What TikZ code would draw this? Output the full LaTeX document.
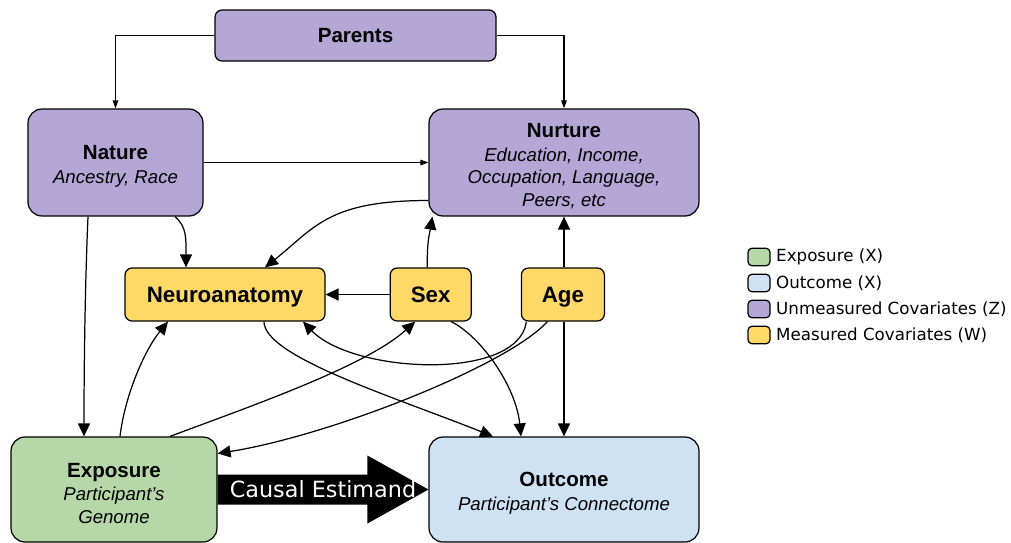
\documentclass[tikz,border=0pt]{standalone}
\usepackage{fontspec}
\setmainfont{Liberation Sans}
\newfontfamily\dejavu{DejaVu Sans}
\usetikzlibrary{positioning,arrows.meta,calc}

\definecolor{unmeas}{HTML}{B4A7D6}
\definecolor{meas}{HTML}{FFD966}
\definecolor{expos}{HTML}{B6D7A8}
\definecolor{outco}{HTML}{CFE2F3}

\newcommand{\boxtitle}[1]{{\fontsize{11.7}{14}\selectfont\bfseries\upshape\rule{0pt}{12.4pt}#1}\\[0.3pt]}
\newcommand{\covtitle}[1]{{\fontsize{12.7}{15}\selectfont\bfseries\upshape #1}}

\begin{document}
\begin{tikzpicture}[
    x=0.02cm, y=-0.02cm, line width=0.7pt,
    >={Triangle[length=2.6mm,width=2.4mm]},
    thinarr/.style={-{Triangle[length=1.6mm,width=1.1mm]}},
    var/.style={draw, align=center, inner sep=1pt, font=\fontsize{10.6}{13}\selectfont\itshape},
    big/.style={var, rounded corners=2.8mm},
    cov/.style={var, fill=meas, rounded corners=1.4mm, minimum height=10.6mm, text height=9.1pt, text depth=0pt},
    key/.style={draw, rounded corners=0.8mm, minimum width=4.4mm, minimum height=3.5mm, inner sep=0pt},
    legtext/.style={inner sep=0pt, font=\dejavu\fontsize{9.5}{11}\selectfont},
    estim/.style={text=white, font=\dejavu\fontsize{12.7}{15}\selectfont},
  ]
  \useasboundingbox (0,0) rectangle (1011,542);

  % --- Unmeasured covariates ---
  \node[var, fill=unmeas, rounded corners=1.4mm, minimum width=5.62cm, minimum height=1.02cm,
    text height=8.4pt, text depth=0pt] (par) at (355.5,35.5) {\textbf{\upshape\fontsize{11.7}{14}\selectfont Parents}};
  \node[big, fill=unmeas, minimum width=3.5cm, minimum height=2.14cm] (nat) at (115.5,162.5) {\boxtitle{Nature}Ancestry, Race};
  \node[big, fill=unmeas, minimum width=5.4cm, minimum height=2.14cm] (nur) at (564,162.5) {\boxtitle{Nurture}Education, Income,\\Occupation, Language,\\Peers, etc};
  % --- Measured covariates ---
  \node[cov, minimum width=4cm] (neu) at (225,294.5) {\covtitle{Neuroanatomy}};
  \node[cov, minimum width=1.62cm, right=1.28cm of neu] (sex) {\covtitle{Sex}};
  \node[cov, minimum width=1.66cm, right=0.98cm of sex] (age) {\covtitle{Age}};
  % --- Exposure / outcome ---
  \node[big, fill=expos, minimum width=4.12cm, minimum height=2.1cm] (expo) at (114,489.5) {\boxtitle{Exposure}Participant’s\\Genome};
  \node[big, fill=outco, minimum width=5.4cm, minimum height=2.1cm] (outc) at (564,489.5) {\boxtitle{Outcome}Participant’s Connectome};

  % Parents, Nature
  \draw[thinarr] (par.west) -| (nat.north);
  \draw[thinarr] (par.east) -| (nur.north);
  \draw[thinarr] (nat.east) -- (nur.west);
  \draw[->] ($(nat.south)+(-27.5,0)$) .. controls +(-3,70) and +(0,-70) .. ($(expo.north)+(-30,0)$);
  \draw[->] ($(nat.south)+(59.5,0)$) .. controls +(12,10) and +(0,-28) .. ($(neu.north)+(-39,0)$);
  % Nurture
  \draw[->] ($(nur.west)+(0,38)$) .. controls +(-100,0) and +(50,-40) .. ($(neu.north)+(40,0)$);
  % Sex
  \draw[->] ($(sex.north)+(-3.5,0)$) .. controls +(0,-28) and +(-3,18) .. ($(nur.south west)+(4,0)$);
  \draw[->] (sex.west) -- (neu.east);
  \draw[->] ($(sex.south)+(20.5,0)$) .. controls +(30,15) and +(-5,-50) .. ($(outc.north)+(-43,0)$);
  % Age
  \draw[->] (nur.south |- age.north) -- (nur.south);
  \draw[->] (outc.north |- age.south) -- (outc.north);
  \draw[->] ($(age.south)+(-36.5,0)$) .. controls +(-8,60) and +(50,52) .. ($(neu.south)+(78,0)$);
  \draw[->] ($(age.south)+(-15.5,0)$) .. controls +(-40,44) and +(113,-18) .. ($(expo.east)+(0,-36)$);
  % Neuroanatomy, Exposure
  \draw[->] ($(neu.south)+(39,0)$) .. controls +(0,35) and +(-100,-40) .. ($(outc.north)+(-71,0)$);
  \draw[->] ($(expo.north)+(56,0)$) .. controls +(80,-30) and +(-50,45) .. ($(sex.south)+(-15.5,0)$);
  \draw[->] ($(expo.north)+(6,0)$) .. controls +(5,-42) and +(-23,28) .. ($(neu.south)+(-57,0)$);

  % Causal estimand (block arrow)
  \fill ($(expo.east)+(0,-15)$) -- ($(outc.west)+(-61,-15)$) -- ($(outc.west)+(-61,-34)$) -- (outc.west)
    -- ($(outc.west)+(-61,34)$) -- ($(outc.west)+(-61,15)$) -- ($(expo.east)+(0,15)$) -- cycle;
  \node[estim] (est) at ($(expo.east)!0.5!(outc.west)$) {Causal Estimand};

  % Legend
  \node[key, fill=expos] (k1) at (759,257) {};
  \node[legtext, right=1mm of k1] (l1) {Exposure (X)};
  \node[key, fill=outco] (k2) at (759,283) {};
  \node[legtext, right=1mm of k2] (l2) {Outcome (X)};
  \node[key, fill=unmeas] (k3) at (759,309) {};
  \node[legtext, right=1mm of k3] (l3) {Unmeasured Covariates (Z)};
  \node[key, fill=meas] (k4) at (759,335) {};
  \node[legtext, right=1mm of k4] (l4) {Measured Covariates (W)};
\end{tikzpicture}
\end{document}
